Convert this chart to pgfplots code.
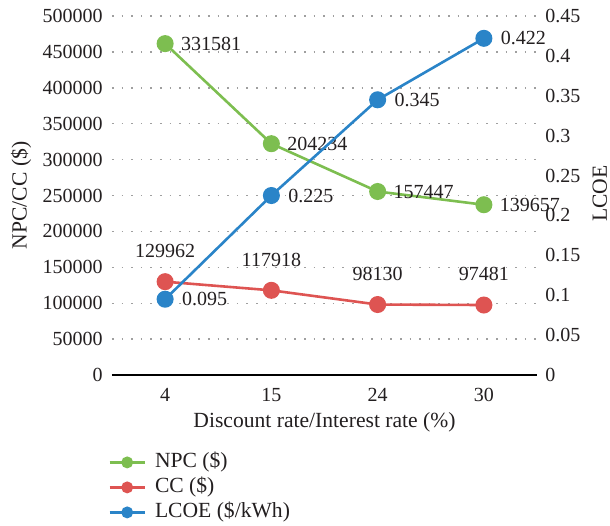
\documentclass[border=0pt]{standalone}
\usepackage{pgfplots}
\pgfplotsset{compat=1.18}
\usepackage{fontspec}
\setmainfont{Liberation Serif}

\definecolor{npcgreen}{RGB}{125,190,80}
\definecolor{ccred}{RGB}{222,84,82}
\definecolor{lcoeblue}{RGB}{42,132,200}
\definecolor{txt}{RGB}{35,31,32}

\tikzset{
  series/.style={color=#1, line width=1.3pt, mark=*, mark size=3.6pt,
    mark options={solid, fill=#1, draw=#1}},
  dlabel/.style={font=\fontsize{10}{12}\selectfont, text=txt},
}

\pgfplotsset{
  base/.style={
    scale only axis, width=212.5pt, height=179.5pt,
    xmin=-0.5, xmax=3.5, ymin=0,
    major tick length=0pt,
    tick label style={font=\fontsize{10}{12}\selectfont, text=txt},
    label style={font=\fontsize{10.8}{13}\selectfont, text=txt},
    scaled y ticks=false,
    clip=false,
  },
}

\begin{document}
\begin{tikzpicture}
\useasboundingbox (-56pt,-75pt) rectangle (249pt,187.5pt);

% left axis: CC and NPC, stacked as cumulative lines
\begin{axis}[base,
  ymax=500000, ytick={0,50000,...,500000},
  yticklabel={\pgfmathprintnumber[fixed, precision=0, 1000 sep={}, assume math mode=true]{\tick}},
  yticklabel style={xshift=-1.2pt},
  xtick={0,1,2,3}, xticklabels={4,15,24,30},
  xticklabel style={yshift=-3pt},
  axis x line*=bottom, axis y line*=left,
  x axis line style={-, black, line width=0.8pt},
  y axis line style={draw=none},
  ymajorgrids,
  grid style={dash pattern=on 0.8pt off 4pt, gray!75, line width=0.7pt},
  ylabel={NPC/CC (\$)},
  ylabel style={at={(axis description cs:-0.214,0.5)}, anchor=center},
  xlabel={Discount rate/Interest rate (\%)},
  xlabel style={at={(axis description cs:0.5,-0.131)}, anchor=center},
  stack plots=y,
]
\addplot[series=ccred, point meta=explicit symbolic,
  nodes near coords, nodes near coords align={anchor=south},
  every node near coord/.append style={dlabel, yshift=8pt}]
  coordinates {(0,129962) [129962] (1,117918) [117918] (2,98130) [98130] (3,97481) [97481]};
\addplot[series=npcgreen, point meta=explicit symbolic,
  nodes near coords, nodes near coords align={anchor=west},
  every node near coord/.append style={dlabel, anchor=west, xshift=4pt}]
  coordinates {(0,331581) [331581] (1,204234) [204234] (2,157447) [157447] (3,139657) [139657]};
\end{axis}

% right axis: LCOE
\begin{axis}[base,
  ymax=0.45, ytick={0,0.05,0.1,0.15,0.2,0.25,0.3,0.35,0.4,0.45},
  yticklabels={0,0.05,0.1,0.15,0.2,0.25,0.3,0.35,0.4,0.45},
  yticklabel style={xshift=0.7pt},
  axis y line*=right, axis x line=none,
  y axis line style={draw=none},
  ylabel={LCOE},
  ylabel style={at={(axis description cs:1.148,0.505)}, anchor=center},
  legend image code/.code={\draw[mark repeat=2, mark phase=2, #1, line width=1.3pt, mark size=2.3pt]
    plot coordinates {(0pt,0pt) (8.75pt,0pt) (17.5pt,0pt)};},
  legend style={at={(axis description cs:0,0)}, anchor=north west,
    xshift=-2pt, yshift=-38pt, draw=none, fill=none, inner sep=0pt,
    font=\fontsize{10.8}{13}\selectfont, text=txt, row sep=1.5pt,
    nodes={inner xsep=4.5pt, inner ysep=1pt, text height=7pt, text depth=2pt}},
  legend cell align=left,
]
\addlegendimage{series=npcgreen}
\addlegendentry{NPC (\$)}
\addlegendimage{series=ccred}
\addlegendentry{CC (\$)}
\addplot[series=lcoeblue, point meta=explicit symbolic,
  nodes near coords, nodes near coords align={anchor=west},
  every node near coord/.append style={dlabel, anchor=west, xshift=4.5pt}]
  coordinates {(0,0.095) [0.095] (1,0.225) [0.225] (2,0.345) [0.345] (3,0.422) [0.422]};
\addlegendentry{LCOE (\$/kWh)}
\end{axis}
\end{tikzpicture}
\end{document}
